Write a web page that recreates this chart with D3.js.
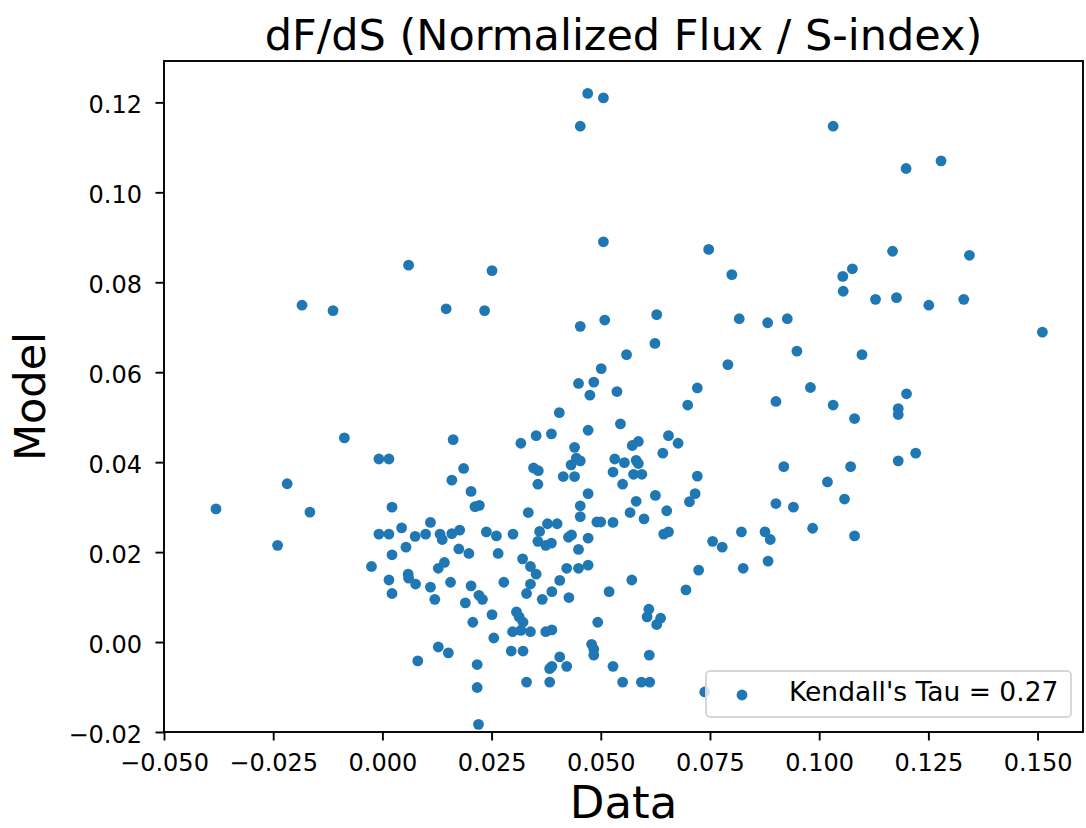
<!DOCTYPE html>
<html>
<head>
<meta charset="utf-8">
<script src="https://cdn.jsdelivr.net/npm/d3@7"></script>
<style>
  html, body { margin: 0; padding: 0; background: #ffffff; }
  svg { display: block; font-family: "DejaVu Sans", sans-serif; }
</style>
</head>
<body>
<svg id="chart" width="1086" height="828"></svg>
<script>
// ---- data ----
const dataX = [
  0.0060, 0.0470, 0.0506, 0.0453, 0.0506, 0.0747, 0.0251, 0.0800, 0.1032, 0.1199,
  0.1279, 0.1168, 0.1344, 0.1076, 0.1054, -0.0184, -0.0113, 0.0146, -0.0087, 0.0162,
  -0.0008, 0.0015, -0.0218, 0.0159, -0.0381, -0.0166, 0.0022, 0.0234, 0.0453, 0.0509,
  0.0628, 0.0817, 0.0882, 0.0624, 0.0559, 0.0501, 0.0791, 0.0449, 0.0484, 0.0475,
  0.0537, 0.0721, 0.0699, 0.0405, 0.0471, 0.0545, 0.0317, 0.0352, 0.0387, 0.0440,
  0.0572, 0.0586, 0.0655, 0.0677, 0.0642, 0.0186, 0.0346, 0.0357, 0.0432, 0.0444,
  0.0453, 0.0532, 0.0554, 0.0581, 0.0586, 0.0414, 0.0440, 0.0356, 0.0528, 0.0550,
  0.0575, 0.0594, 0.0721, 0.0203, 0.0212, 0.0222, 0.0334, 0.0471, 0.0453, 0.0453,
  0.0581, 0.0625, 0.0651, 0.0567, 0.0599, 0.0716, 0.0703, 0.1055, 0.1129, 0.1177,
  0.1251, 0.1331, 0.0927, 0.1511, 0.0949, 0.1098, 0.0980, 0.1200, 0.0901, 0.1032,
  0.1081, 0.1181, 0.1181, 0.0919, 0.1072, 0.1181, 0.1221, 0.1019, 0.0901, 0.0941,
  0.1058, -0.0240, -0.0025, -0.0008, 0.0015, 0.0044, 0.0022, 0.0054, 0.0075, 0.0099,
  0.0110, 0.0132, 0.0137, 0.0159, 0.0175, 0.0015, 0.0022, 0.0059, 0.0060, 0.0076,
  0.0110, 0.0120, 0.0128, 0.0142, 0.0156, 0.0128, 0.0151, 0.0081, 0.0177, 0.0238,
  0.0261, 0.0299, 0.0360, 0.0378, 0.0400, 0.0356, 0.0374, 0.0387, 0.0426, 0.0433,
  0.0471, 0.0491, 0.0500, 0.0528, 0.0449, 0.0198, 0.0265, 0.0321, 0.0339, 0.0352,
  0.0422, 0.0449, 0.0471, 0.0644, 0.0655, 0.0756, 0.0778, 0.0822, 0.0876, 0.0883,
  0.0826, 0.0724, 0.0695, 0.0571, 0.0519, 0.0203, 0.0221, 0.0229, 0.0190, 0.0278,
  0.0339, 0.0330, 0.0388, 0.0406, 0.0366, 0.0427, 0.0251, 0.0207, 0.0307, 0.0313,
  0.0322, 0.0298, 0.0317, 0.0339, 0.0374, 0.0388, 0.0255, 0.0295, 0.0322, 0.0406,
  0.0383, 0.0388, 0.0422, 0.0217, 0.0217, 0.0330, 0.0383, 0.0220, 0.0493, 0.0479,
  0.0484, 0.0484, 0.0528, 0.0550, 0.0593, 0.0612, 0.0611, 0.0610, 0.0606, 0.0637,
  0.0628, 0.0738, 0.0888, 0.0985, 0.1081
];
const modelY = [
  0.0838, 0.1220, 0.1210, 0.1147, 0.0890, 0.0873, 0.0826, 0.0817, 0.1147, 0.1053,
  0.1070, 0.0869, 0.0860, 0.0830, 0.0813, 0.0749, 0.0737, 0.0741, 0.0454, 0.0450,
  0.0407, 0.0407, 0.0352, 0.0360, 0.0296, 0.0289, 0.0300, 0.0737, 0.0702, 0.0716,
  0.0728, 0.0719, 0.0710, 0.0664, 0.0639, 0.0608, 0.0617, 0.0575, 0.0578, 0.0549,
  0.0557, 0.0565, 0.0527, 0.0510, 0.0471, 0.0485, 0.0442, 0.0459, 0.0463, 0.0433,
  0.0437, 0.0446, 0.0459, 0.0442, 0.0420, 0.0386, 0.0387, 0.0381, 0.0394, 0.0409,
  0.0403, 0.0407, 0.0399, 0.0404, 0.0397, 0.0368, 0.0368, 0.0351, 0.0378, 0.0351,
  0.0373, 0.0373, 0.0369, 0.0335, 0.0301, 0.0304, 0.0288, 0.0330, 0.0303, 0.0279,
  0.0313, 0.0326, 0.0292, 0.0288, 0.0274, 0.0330, 0.0312, 0.0780, 0.0762, 0.0766,
  0.0749, 0.0762, 0.0719, 0.0689, 0.0647, 0.0639, 0.0566, 0.0552, 0.0535, 0.0527,
  0.0497, 0.0519, 0.0506, 0.0390, 0.0390, 0.0403, 0.0420, 0.0356, 0.0308, 0.0300,
  0.0318, 0.0215, 0.0168, 0.0240, 0.0240, 0.0254, 0.0194, 0.0211, 0.0235, 0.0240,
  0.0266, 0.0240, 0.0228, 0.0241, 0.0207, 0.0138, 0.0108, 0.0151, 0.0142, 0.0129,
  0.0122, 0.0095, 0.0164, 0.0177, 0.0133, -0.0011, -0.0024, -0.0042, 0.0249, 0.0245,
  0.0236, 0.0240, 0.0246, 0.0263, 0.0263, 0.0224, 0.0215, 0.0220, 0.0233, 0.0238,
  0.0231, 0.0267, 0.0267, 0.0266, 0.0206, 0.0197, 0.0197, 0.0185, 0.0168, 0.0151,
  0.0164, 0.0164, 0.0171, 0.0240, 0.0245, 0.0224, 0.0211, 0.0245, 0.0245, 0.0180,
  0.0164, 0.0160, 0.0116, 0.0138, 0.0112, 0.0125, 0.0104, 0.0095, 0.0087, 0.0133,
  0.0129, 0.0108, 0.0112, 0.0137, 0.0095, 0.0099, 0.0061, 0.0044, 0.0067, 0.0056,
  0.0044, 0.0023, 0.0026, 0.0023, 0.0023, 0.0027, 0.0009, -0.0020, -0.0020, -0.0033,
  -0.0059, -0.0054, -0.0054, -0.0050, -0.0101, -0.0089, -0.0089, -0.0183, 0.0044, -0.0005,
  -0.0016, -0.0029, -0.0054, -0.0089, -0.0089, -0.0089, -0.0029, 0.0073, 0.0056, 0.0053,
  0.0039, -0.0111, 0.0228, 0.0253, 0.0236
];
const xTicks = [-0.050, -0.025, 0.000, 0.025, 0.050, 0.075, 0.100, 0.125, 0.150];
const yTicks = [-0.02, 0.00, 0.02, 0.04, 0.06, 0.08, 0.10, 0.12];
const titleText = "dF/dS (Normalized Flux / S-index)";
const xLabel = "Data";
const yLabel = "Model";
const legendLabel = "Kendall's Tau = 0.27";

// ---- layout ----
const svg = d3.select("#chart");
const W = 1086, H = 828;
const plot = { left: 164, right: 1083, top: 61, bottom: 732 };
const pointColor = "#1f77b4";
const fontFamily = "'DejaVu Sans', sans-serif";

const x = d3.scaleLinear().domain([-0.05, 0.1604]).range([plot.left, plot.right]);
const y = d3.scaleLinear().domain([-0.02, 0.1292]).range([plot.bottom, plot.top]);

svg.append("rect").attr("width", W).attr("height", H).attr("fill", "#fff");

// points
const pts = dataX.map((d, i) => ({ x: d, y: modelY[i] }));
svg.append("g")
  .selectAll("circle")
  .data(pts)
  .enter().append("circle")
  .attr("cx", d => x(d.x))
  .attr("cy", d => y(d.y))
  .attr("r", 5.4)
  .attr("fill", pointColor);

// axes
const tickLen = 8.5;
const xAxis = d3.axisBottom(x).tickValues(xTicks).tickFormat(d3.format(".3f"))
  .tickSize(tickLen).tickPadding(8);
const yAxis = d3.axisLeft(y).tickValues(yTicks).tickFormat(d3.format(".2f"))
  .tickSize(tickLen).tickPadding(8);

const gx = svg.append("g").attr("transform", `translate(0,${plot.bottom})`).call(xAxis);
const gy = svg.append("g").attr("transform", `translate(${plot.left},0)`).call(yAxis);
[gx, gy].forEach(g => {
  g.select(".domain").remove();
  g.selectAll(".tick line").attr("stroke", "#000").attr("stroke-width", 1.9);
  g.selectAll(".tick text")
    .attr("fill", "#000")
    .style("font-family", fontFamily)
    .style("font-size", "24px");
});
gx.selectAll(".tick text").attr("dy", null).attr("y", 38.5);
gy.selectAll(".tick text").attr("dy", null).attr("y", 10.5).attr("x", -22);

// frame
svg.append("rect")
  .attr("x", plot.left).attr("y", plot.top)
  .attr("width", plot.right - plot.left).attr("height", plot.bottom - plot.top)
  .attr("fill", "none").attr("stroke", "#000").attr("stroke-width", 1.9);

// title & labels
const cx = (plot.left + plot.right) / 2;
svg.append("text").attr("x", cx).attr("y", 50).attr("text-anchor", "middle")
  .style("font-family", fontFamily).style("font-size", "43px").attr("fill", "#000")
  .text(titleText);
svg.append("text").attr("x", cx).attr("y", 818).attr("text-anchor", "middle")
  .style("font-family", fontFamily).style("font-size", "45px").attr("fill", "#000")
  .text(xLabel);
svg.append("text")
  .attr("transform", `translate(45,${(plot.top + plot.bottom) / 2}) rotate(-90)`)
  .attr("text-anchor", "middle")
  .style("font-family", fontFamily).style("font-size", "43px").attr("fill", "#000")
  .text(yLabel);

// legend
const lg = svg.append("g");
const lgW = 365, lgH = 46;
const lgX = plot.right - 12 - lgW, lgY = plot.bottom - 15 - lgH;
lg.append("rect").attr("x", lgX).attr("y", lgY).attr("width", lgW).attr("height", lgH)
  .attr("rx", 4).attr("fill", "#fff").attr("fill-opacity", 0.8)
  .attr("stroke", "#d6d6d6").attr("stroke-width", 1.9);
lg.append("circle").attr("cx", lgX + 36).attr("cy", lgY + 24).attr("r", 5.4).attr("fill", pointColor);
lg.append("text").attr("x", lgX + 83).attr("y", lgY + 30)
  .style("font-family", fontFamily).style("font-size", "26.5px").attr("fill", "#000")
  .text(legendLabel);
</script>
</body>
</html>
